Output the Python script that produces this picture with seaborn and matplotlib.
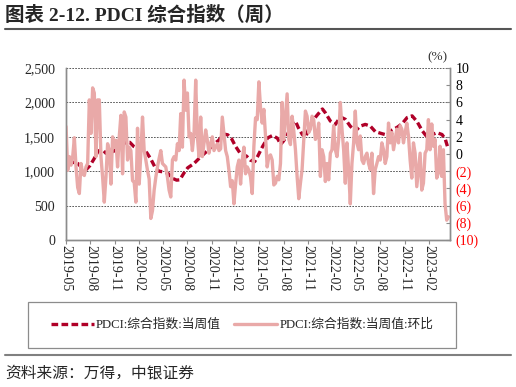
import pandas as pd
import numpy as np
import matplotlib.pyplot as plt
import matplotlib.dates as mdates
import seaborn as sns

######################################## data ########################################
# PDCI composite index, weekly level (left axis)
idx_dates = ['2019-05-08', '2019-05-27', '2019-06-15', '2019-06-30', '2019-07-15', '2019-07-30',
             '2019-08-15', '2019-08-30', '2019-09-14', '2019-09-29', '2019-10-18', '2019-11-06',
             '2019-11-24', '2019-12-13', '2019-12-28', '2020-01-12', '2020-01-31', '2020-02-15',
             '2020-03-01', '2020-03-16', '2020-04-01', '2020-04-16', '2020-05-04', '2020-05-20',
             '2020-06-04', '2020-06-22', '2020-07-04', '2020-07-19', '2020-08-03', '2020-08-26',
             '2020-09-21', '2020-10-17', '2020-11-09', '2020-11-28', '2020-12-17', '2021-01-01',
             '2021-01-16', '2021-01-31', '2021-02-19', '2021-03-13', '2021-03-28', '2021-04-13',
             '2021-04-24', '2021-05-13', '2021-06-01', '2021-06-19', '2021-07-08', '2021-07-20',
             '2021-07-31', '2021-08-15', '2021-09-03', '2021-09-14', '2021-09-25', '2021-10-10',
             '2021-10-22', '2021-11-02', '2021-11-17', '2021-12-06', '2021-12-25', '2022-01-05',
             '2022-01-24', '2022-02-12', '2022-03-03', '2022-03-22', '2022-04-09', '2022-04-28',
             '2022-05-17', '2022-06-05', '2022-06-24', '2022-07-13', '2022-08-08', '2022-08-27',
             '2022-09-15', '2022-10-04', '2022-10-22', '2022-11-10', '2022-11-29', '2022-12-18',
             '2023-01-06', '2023-01-25', '2023-02-13', '2023-03-03', '2023-03-22', '2023-04-03',
             '2023-04-14']
idx_values = [1150, 1130, 1110, 1050, 1020, 1080, 1180, 1290, 1320, 1260, 1270, 1310,
              1370, 1420, 1420, 1360, 1320, 1320, 1270, 1180, 1060, 1000, 990, 970,
              900, 870, 875, 970, 1050, 1110, 1210, 1300, 1390, 1450, 1540, 1530,
              1470, 1360, 1250, 1220, 1160, 1140, 1215, 1360, 1485, 1519, 1480, 1390,
              1440, 1534, 1705, 1730, 1632, 1534, 1490, 1607, 1730, 1820, 1905, 1850,
              1730, 1681, 1790, 1754, 1656, 1583, 1656, 1681, 1656, 1575, 1545, 1525,
              1600, 1640, 1690, 1780, 1805, 1720, 1590, 1495, 1534, 1560, 1534, 1470,
              1330]

# week-on-week change, % (right axis)
wow_values = [3.2, -1.9, -0.3, -1.3, -0.3, 1.9, -1.5, -3.9, -4.6, -1.1, -2.3, -2.5, -1.5, -1.1,
              6.3, 2.4, 7.7, 7.1, -0.3, 6.3, 6.3, -0.3, -2.7, -5.6, -2.7, 1.2, 0.4, -3.5,
              2.0, 0.8, 1.6, -1.5, 2.0, 4.5, -2.3, 4.9, 4.3, -0.7, 0.8, 0.4, -3.1, -3.3,
              -5.6, 3.0, -3.5, 0.1, 4.3, 0.4, -0.7, -1.9, -2.9, -7.5, -6.6, -4.2, -2.7, -1.5,
              -0.5, 0.4, -1.1, -1.3, -1.5, -2.7, -4.2, -5.0, -0.7, -0.3, -0.7, 1.2, 0.4, 4.7,
              0.8, 8.6, 5.1, 7.1, 2.0, 2.4, 0.4, 2.4, 8.6, 2.0, -0.3, 4.3, -0.3, 1.2,
              2.8, 1.6, 0.1, 1.2, 2.0, 0.4, 0.8, 1.2, 0.4, 0.6, 4.3, 2.4, 0.4, -0.3,
              -1.9, -3.8, -3.1, -5.8, -3.5, -1.5, -0.7, -3.5, -0.7, 0.8, -2.3, -1.5, -1.9, -2.7,
              -4.6,
              0.9, 4.2, 4.0, 8.4, 5.4, 3.6, 5.2, 2.1, -1.5, -0.3, -0.1, -0.7, -3.6, -3.4,
              -2.6, -3.0, -1.1, 6.0, 1.7, 4.4, 7.0, 1.7, 1.1, 4.4, 2.7, 0.5, -2.6, -5.2,
              -3.4, -1.8, 1.7, 5.0, 4.4, 2.5, 2.9, 4.4, 4.0, 1.7, 2.1, 3.6, -2.6, 0.5,
              -0.3, -3.2, -1.1, -3.0, 0.1, 0.5, 3.3, 0.5, -0.3, 1.7, 6.0, 2.9, 0.5, -3.4,
              1.3, -1.8, -5.8, -1.1, 1.3, 5.0, 1.3, 0.5, 2.1, -0.7, -1.1, -0.3, 0.1, -1.1,
              -1.8, 0.1, -4.6, -1.8, -1.1, -0.3, -0.7, 1.3, 0.5, -1.1, -0.3, 3.6, 1.3, 2.5,
              0.5, 1.7, 2.9, 1.3, 3.3, 2.9, 1.3, 2.5, 3.6, 2.1, -0.7, -2.8, 1.3, 0.1,
              -3.8, -1.8, 0.1, -4.2, -3.4, 0.1, 0.5, 4.0, 0.5, 3.5, 0.9, 1.7, -2.8, -2.2,
              0.9, -2.6, 0.5, -5.8, -7.7, -7.3]
wow_start, wow_end = '2019-05-01', '2023-04-15'

left_ticks = [0, 500, 1000, 1500, 2000, 2500]
right_ticks = [-10, -8, -6, -4, -2, 0, 2, 4, 6, 8, 10]

label_idx = 'PDCI:综合指数:当周值'
label_wow = 'PDCI:综合指数:当周值:环比'

idx = pd.DataFrame({'date': pd.to_datetime(idx_dates), 'value': idx_values})
wow = pd.DataFrame({'date': pd.date_range(wow_start, wow_end, periods=len(wow_values)),
                    'value': wow_values})

######################################## plot ########################################
sns.set_style('white')
plt.rcParams['font.family'] = ['Liberation Serif', 'Noto Sans CJK SC']

dark_red = '#B00028'
pink = '#E9A9A8'
grey = '#8C8C8C'

fig = plt.figure(figsize=(5.16, 3.87), dpi=100)
ax = fig.add_axes([0.128, 0.380, 0.744, 0.444])
ax2 = ax.twinx()

sns.lineplot(data=idx, x='date', y='value', ax=ax, color=dark_red, lw=2.4,
             linestyle=(0, (2, 1)), legend=False)
sns.lineplot(data=wow, x='date', y='value', ax=ax2, color=pink, lw=2.4, legend=False)

ax.set_xlim(pd.Timestamp('2019-05-01'), pd.Timestamp('2023-04-21'))
ax.set_ylim(0, 2500)
ax2.set_ylim(-10, 10)

# left axis
ax.set_yticks(left_ticks)
ax.set_yticklabels([f'{v:,}' for v in left_ticks])
ax.yaxis.grid(True, color='#404040', linestyle=(0, (2, 1.5)), lw=0.6)
ax.xaxis.grid(False)
ax.tick_params(axis='y', length=0, labelsize=10, pad=8)
ax.set_xlabel('')
ax.set_ylabel('')

# dates along the bottom
ax.xaxis.set_major_locator(mdates.MonthLocator(bymonth=[2, 5, 8, 11]))
ax.xaxis.set_major_formatter(mdates.DateFormatter('%Y-%m'))
ax.tick_params(axis='x', length=3, color=grey, labelsize=10, pad=1, bottom=True)
plt.setp(ax.get_xticklabels(), rotation=-90, ha='center', va='top')

# right axis: negatives in red brackets
ax2.set_yticks(right_ticks)
ax2.set_yticklabels([f'({-v})' if v < 0 else f'{v}' for v in right_ticks])
for lab, v in zip(ax2.get_yticklabels(), right_ticks):
    lab.set_color('#FF0000' if v < 0 else 'black')
ax2.tick_params(axis='y', direction='in', length=3, color=grey, labelsize=10, pad=4)
ax2.set_ylabel('')

for a in (ax, ax2):
    a.spines['top'].set_visible(False)
    for s in ('left', 'right', 'bottom'):
        a.spines[s].set_color(grey)
        a.spines[s].set_linewidth(1.0)

fig.text(0.847, 0.853, '(%)', ha='center', va='center', fontsize=9.5, color='#333333')

# title, rules and source
fig.text(0.01, 0.961, '图表 2-12. PDCI 综合指数（周）', fontsize=14, fontweight='bold', va='center')
fig.add_artist(plt.Line2D([0.01, 0.99], [0.925, 0.925], transform=fig.transFigure,
                          color='#555555', lw=1.5))
fig.add_artist(plt.Line2D([0.01, 0.99], [0.083, 0.083], transform=fig.transFigure,
                          color='#808080', lw=1.5))
fig.text(0.01, 0.036, '资料来源：万得，中银证券', fontsize=11.3, va='center',
         family=['Noto Sans CJK SC'])

# legend in a framed box below the axes
handles = [ax.get_lines()[0], ax2.get_lines()[0]]
fig.legend(handles, [label_idx, label_wow], loc='center', bbox_to_anchor=(0.469, 0.160),
           ncol=2, frameon=False, fontsize=9.2, handlelength=3.4, handletextpad=0.15,
           columnspacing=1.0)
fig.add_artist(plt.Rectangle((0.054, 0.101), 0.829, 0.119, transform=fig.transFigure,
                             fill=False, ec=grey, lw=0.9))

fig.savefig('out.png', dpi=100)
